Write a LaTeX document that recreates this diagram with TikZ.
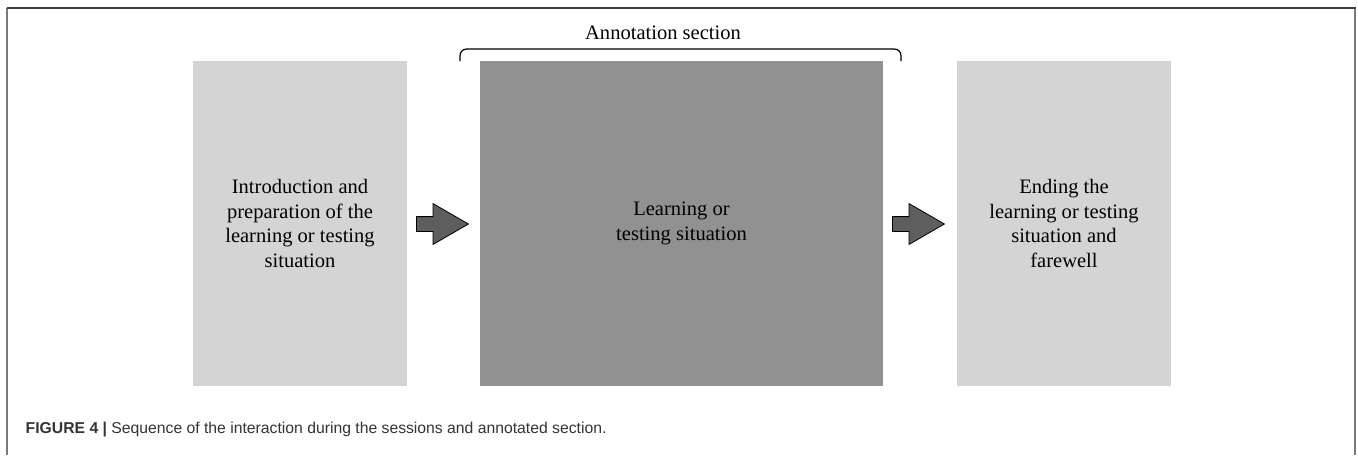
\documentclass[tikz,border=0pt]{standalone}
\usepackage{fontspec}
\setmainfont{Liberation Serif}
\setsansfont{Liberation Sans}
\usepackage{xcolor}
\usetikzlibrary{shapes.arrows}

\definecolor{paleblock}{HTML}{D4D4D4}
\definecolor{darkblock}{HTML}{919191}
\definecolor{arrowfill}{HTML}{5E5E5E}
\definecolor{framegray}{HTML}{7A7A7A}
\definecolor{captiongray}{HTML}{333333}

\begin{document}
\begin{tikzpicture}[x=0.75pt,y=-0.75pt]
  \useasboundingbox (0,0) rectangle (1358,455);
  \tikzstyle{block}=[rectangle, inner sep=0pt, minimum height=243.75pt, align=center, font=\fontsize{15.4}{18.3}\selectfont]
  \tikzstyle{blockarrow}=[single arrow, draw=black, line width=0.6pt, fill=arrowfill, inner xsep=0pt, inner ysep=5.25pt, single arrow head extend=9.75pt, single arrow tip angle=60, minimum height=39pt, anchor=tail]
  % frame of the figure
  \draw[framegray, line width=1.1pt] (7,455) -- (7,8);
  \draw[framegray, line width=1.1pt] (1355,455) -- (1355,8);
  \draw[black!75, line width=1.1pt] (6.5,8) -- (1355.5,8);
  % the three phases
  \node[block, fill=paleblock, minimum width=160.5pt] (intro) at (300,223.5) {Introduction and\\preparation of the\\learning or testing\\situation};
  \node[block, fill=darkblock, minimum width=302.25pt] (learning) at (681.5,223.5) {Learning or\\testing situation};
  \node[block, fill=paleblock, minimum width=160.5pt] (ending) at (1064,223.5) {Ending the\\learning or testing\\situation and\\farewell};
  \node[blockarrow] (arrowA) at (416,224) {};
  \node[blockarrow] (arrowB) at (892,224) {};
  % annotated part
  \draw[line width=0.9pt, rounded corners=5pt] (460,61) -- (460,49) -- (901,49) -- (901,61);
  \node[font=\fontsize{15.4}{18.3}\selectfont] (annot) at (663,33) {Annotation section};
  \node[anchor=base west, font=\sffamily\fontsize{11.8}{14}\selectfont, text=captiongray] (caption) at (21,433) {\textbf{FIGURE 4 |} Sequence of the interaction during the sessions and annotated section.};
\end{tikzpicture}
\end{document}
